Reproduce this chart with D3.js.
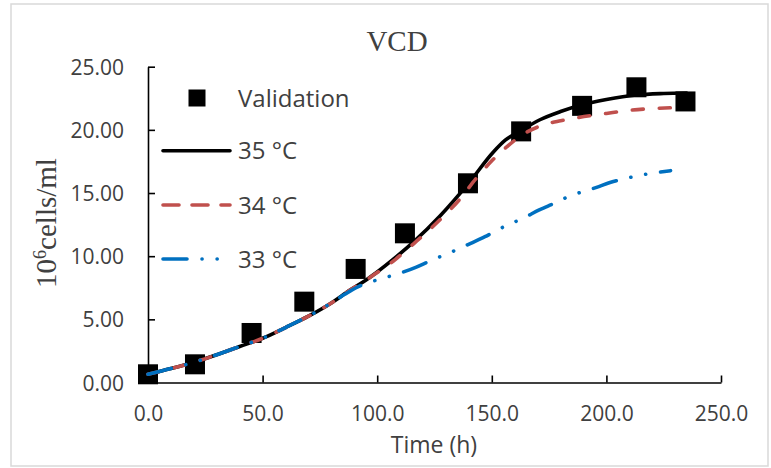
<!DOCTYPE html>
<html>
<head>
<meta charset="utf-8">
<script src="https://cdn.jsdelivr.net/npm/d3@7"></script>
<style>
  html, body { margin: 0; padding: 0; background: #fff; }
  svg { display: block; }
</style>
</head>
<body>
<svg id="chart" width="771" height="468"></svg>
<script>
// ---- data ----
const xTicks = [0, 50, 100, 150, 200, 250];
const yTicks = [0, 5, 10, 15, 20, 25];

const validationTime = [0, 20.5, 45.2, 68.2, 90.6, 112.1, 139.6, 162.8, 189.4, 213.1, 234.5];
const validationVCD  = [0.65, 1.44, 3.92, 6.40, 8.99, 11.81, 15.77, 19.88, 21.90, 23.37, 22.25];

const t35 = [0, 10, 20, 30, 40, 50, 60, 70, 80, 88, 95, 100, 108, 116, 127.5, 140, 150.7, 156, 162.3, 171, 180, 189, 200, 213, 225, 235];
const v35 = [0.65, 1.1, 1.6, 2.2, 2.85, 3.5, 4.35, 5.25, 6.3, 7.3, 8.1, 8.75, 9.9, 11.15, 13.2, 15.8, 18.25, 19.2, 19.9, 20.8, 21.45, 21.97, 22.4, 22.76, 22.88, 22.92];

const t34 = [0, 10, 20, 30, 40, 50, 60, 70, 80, 88, 95, 100, 108, 116, 127.5, 136, 143.4, 150, 156.5, 161.6, 171.8, 180, 187, 200, 210, 222, 234.5];
const v34 = [0.65, 1.1, 1.6, 2.2, 2.85, 3.5, 4.35, 5.25, 6.3, 7.3, 8.1, 8.7, 9.75, 11.0, 12.9, 14.5, 16.2, 17.55, 18.65, 19.4, 20.35, 20.72, 20.95, 21.3, 21.55, 21.7, 21.78];

const t33 = [0, 10, 20, 30, 40, 50, 60, 70, 80, 86, 91.8, 97, 103.4, 110, 116.8, 123, 134.4, 140.8, 147, 153.5, 164.7, 170.7, 177.3, 183.4, 195.7, 201.9, 208.8, 215.4, 228];
const v33 = [0.65, 1.1, 1.6, 2.2, 2.85, 3.5, 4.35, 5.25, 6.3, 7.0, 7.59, 7.95, 8.3, 8.66, 9.12, 9.62, 10.49, 11.02, 11.54, 12.17, 13.1, 13.66, 14.19, 14.71, 15.45, 15.85, 16.17, 16.43, 16.77];

const seriesNames = ["Validation", "35 °C", "34 °C", "33 °C"];

// ---- layout ----
const svg = d3.select("#chart");
const TEXT = "#404040";
const SANS = "'Open Sans', 'Noto Sans', sans-serif";
const SERIF = "'Liberation Serif', 'DejaVu Serif', serif";

const x = d3.scaleLinear().domain([0, 250]).range([148, 721]);
const y = d3.scaleLinear().domain([0, 25]).range([382.5, 66.7]);

// outer frame
svg.append("rect")
  .attr("x", 11).attr("y", 4).attr("width", 757).attr("height", 462)
  .attr("fill", "#fff").attr("stroke", "#d9d9d9").attr("stroke-width", 1.5);

// title
svg.append("text")
  .attr("x", 397).attr("y", 51)
  .attr("text-anchor", "middle")
  .attr("font-family", SERIF).attr("font-size", 29).attr("fill", TEXT)
  .text("VCD");

// axes
const xAxis = d3.axisBottom(x).tickValues(xTicks).tickSize(-7).tickSizeOuter(0)
  .tickFormat(d3.format(".1f"));
const gx = svg.append("g").attr("transform", `translate(0,${y(0)})`).call(xAxis);
gx.select(".domain").attr("stroke", "#000").attr("stroke-width", 1.6);
gx.selectAll(".tick line").attr("stroke", "#000").attr("stroke-width", 1.6);
gx.selectAll(".tick text")
  .attr("font-family", SANS).attr("font-size", 21).attr("fill", TEXT)
  .attr("y", 38.5).attr("dy", 0);

const yAxis = d3.axisLeft(y).tickValues(yTicks).tickSize(-7).tickSizeOuter(0)
  .tickFormat(d3.format(".2f"));
const gy = svg.append("g").attr("transform", `translate(${x(0)},0)`).call(yAxis);
gy.select(".domain").attr("stroke", "#000").attr("stroke-width", 1.6);
gy.selectAll(".tick line").attr("stroke", "#000").attr("stroke-width", 1.6);
gy.selectAll(".tick text")
  .attr("font-family", SANS).attr("font-size", 21).attr("fill", TEXT)
  .attr("x", -24).attr("dy", "0.36em");

// axis titles
svg.append("text")
  .attr("x", 434).attr("y", 453)
  .attr("text-anchor", "middle")
  .attr("font-family", SANS).attr("font-size", 23).attr("fill", TEXT)
  .text("Time (h)");

const yl = svg.append("text")
  .attr("transform", "translate(56,223) rotate(-90)")
  .attr("text-anchor", "middle")
  .attr("font-family", SERIF).attr("font-size", 29).attr("fill", TEXT);
yl.append("tspan").text("10");
yl.append("tspan").attr("font-size", 18).attr("dy", -10).text("6");
yl.append("tspan").attr("dy", 10).text("cells/ml");

// validation markers
const MS = 20;
svg.append("g").selectAll("rect")
  .data(validationTime.map((t, i) => [t, validationVCD[i]]))
  .join("rect")
  .attr("x", d => x(d[0]) - MS / 2).attr("y", d => y(d[1]) - MS / 2)
  .attr("width", MS).attr("height", MS).attr("fill", "#000");

// curves
const line = d3.line().x(d => x(d[0])).y(d => y(d[1])).curve(d3.curveMonotoneX);
const styles = [
  { t: t35, v: v35, color: "#000000", dash: null },
  { t: t34, v: v34, color: "#c0504d", dash: "11 16" },
  { t: t33, v: v33, color: "#0070c0", dash: "24 15 0.1 15 0.1 15" }
];
styles.forEach(s => {
  svg.append("path")
    .attr("d", line(s.t.map((t, i) => [t, s.v[i]])))
    .attr("fill", "none").attr("stroke", s.color).attr("stroke-width", 3.6)
    .attr("stroke-linecap", "round")
    .attr("stroke-dasharray", s.dash);
});

// legend
const lg = svg.append("g");
const legY = [98, 150.7, 205, 259];
lg.append("rect").attr("x", 197 - 8.5).attr("y", legY[0] - 8.5)
  .attr("width", 17).attr("height", 17).attr("fill", "#000");
styles.forEach((s, i) => {
  lg.append("line")
    .attr("x1", 163).attr("x2", 230)
    .attr("y1", legY[i + 1]).attr("y2", legY[i + 1])
    .attr("stroke", s.color).attr("stroke-width", 3.6)
    .attr("stroke-linecap", "round")
    .attr("stroke-dasharray", i === 1 ? "16 13" : s.dash);
});
seriesNames.forEach((n, i) => {
  lg.append("text")
    .attr("x", 238).attr("y", legY[i]).attr("dy", "0.36em")
    .attr("font-family", SANS).attr("font-size", 24).attr("fill", TEXT)
    .text(n);
});
</script>
</body>
</html>
